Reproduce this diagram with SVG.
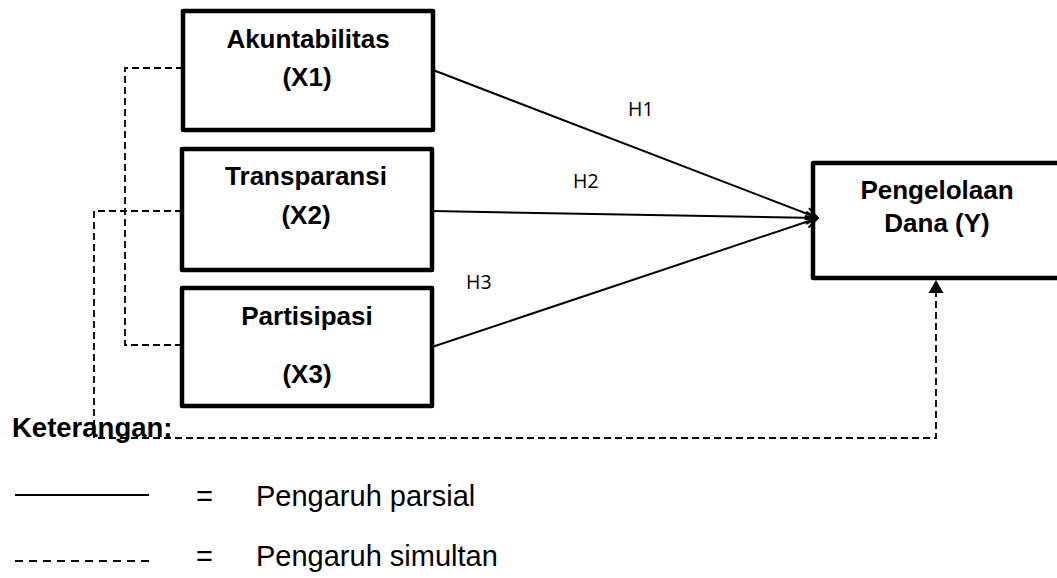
<svg xmlns="http://www.w3.org/2000/svg" width="1057" height="578" viewBox="0 0 1057 578">
<style>
.box{fill:#fff;stroke:#000;stroke-width:4.5;stroke-linejoin:round}
.lbl{font-family:"Liberation Sans",Arial,sans-serif;font-weight:bold;font-size:26px;fill:#000;text-anchor:middle}
.h{font-family:"Open Sans",sans-serif;font-size:19.5px;fill:#000}
.solid{fill:none;stroke:#000;stroke-width:2}
.dash{fill:none;stroke:#000;stroke-width:1.8;stroke-dasharray:7 4}
.leg{font-family:"Liberation Sans",Arial,sans-serif;font-size:29px;fill:#000}
</style>
<defs>
<marker id="open" viewBox="0 0 14 14" refX="13" refY="7" markerWidth="14" markerHeight="14" markerUnits="userSpaceOnUse" orient="auto">
<path d="M1,1 L13,7 L1,13" fill="none" stroke="#000" stroke-width="2"/>
</marker>
</defs>
<g id="node-x1">
<rect class="box" x="183" y="11" width="250" height="119"/>
<text class="lbl" x="308" y="48">Akuntabilitas</text>
<text class="lbl" x="307" y="86">(X1)</text>
</g>
<g id="node-x2">
<rect class="box" x="182" y="149" width="250" height="121"/>
<text class="lbl" x="306" y="185">Transparansi</text>
<text class="lbl" x="306" y="224">(X2)</text>
</g>
<g id="node-x3">
<rect class="box" x="182" y="288" width="250" height="118"/>
<text class="lbl" x="307" y="325">Partisipasi</text>
<text class="lbl" x="307" y="383">(X3)</text>
</g>
<g id="node-y">
<rect class="box" x="813" y="163" width="260" height="115"/>
<text class="lbl" x="937" y="199">Pengelolaan</text>
<text class="lbl" x="937" y="232">Dana (Y)</text>
</g>
<g id="connectors">
<line class="solid" x1="433" y1="70" x2="818" y2="218" marker-end="url(#open)"/>
<line class="solid" x1="432" y1="211" x2="818" y2="218" marker-end="url(#open)"/>
<line class="solid" x1="432" y1="347" x2="818" y2="218" marker-end="url(#open)"/>
<polyline class="dash" points="183,68 125,68 125,345 182,345"/>
<polyline class="dash" points="182,211 94,211 94,438 936,438 936,292"/>
<path d="M936,280 L943.5,293 L928.5,293 Z" fill="#000"/>
</g>
<g id="hypothesis-labels">
<text class="h" x="628" y="116">H1</text>
<text class="h" x="573" y="188">H2</text>
<text class="h" x="466" y="289">H3</text>
</g>
<g id="legend">
<text x="12" y="437" font-family="Liberation Sans, Arial, sans-serif" font-weight="bold" font-size="27.5">Keterangan:</text>
<line x1="15" y1="495" x2="149" y2="495" stroke="#000" stroke-width="1.8"/>
<line x1="15" y1="561" x2="149" y2="561" stroke="#000" stroke-width="1.8" stroke-dasharray="8 6"/>
<text class="leg" x="196" y="506">=</text>
<text class="leg" x="256" y="506">Pengaruh parsial</text>
<text class="leg" x="196" y="566">=</text>
<text class="leg" x="256" y="566">Pengaruh simultan</text>
</g>
</svg>
